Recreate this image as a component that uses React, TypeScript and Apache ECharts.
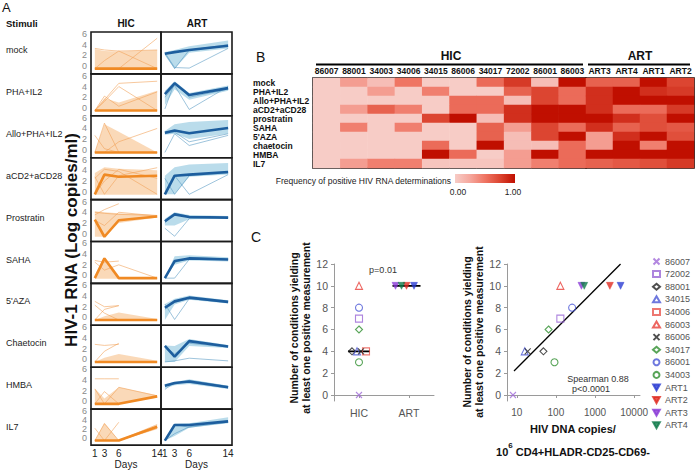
import React, { useEffect, useRef } from 'react';
import * as echarts from 'echarts';

const FONT = '"Liberation Sans", Arial, sans-serif';

// ---------- Panel A data ----------
const days = [1, 3, 6, 14];
const stimuliA = ['mock', 'PHA+IL2', 'Allo+PHA+IL2', 'aCD2+aCD28', 'Prostratin', 'SAHA', "5'AZA", 'Chaetocin', 'HMBA', 'IL7'];

const hicMean = [
  [-0.5, -0.5, -0.5, -0.5], [-0.5, -0.5, -0.5, -0.5], [-0.5, -0.5, -0.5, -0.5], [-0.5, 3.2, 2.8, 3.0], [2.6, -0.6, 2.5, 3.2],
  [-0.5, 3.2, -0.5, -0.5], [-0.5, -0.5, -0.5, -0.5], [-0.5, -0.5, -0.5, -0.5], [-0.5, -0.5, -0.5, 0.9], [-0.5, -0.5, -0.5, 2.5],
];
const hicUpper = [
  [3.2, 2.8, 2.7, 3.0], [-0.5, 1.8, 1.0, 3.2], [-0.5, 4.8, 3.4, -0.5], [3.5, 4.6, 4.3, 4.0], [4.2, 4.0, 3.8, 3.5],
  [-0.5, 3.4, -0.3, -0.5], [-0.5, 0.2, 0.9, -0.3], [-0.5, 0.3, 1.0, -0.3], [2.4, 0.5, 2.6, 1.1], [-0.5, 3.4, -0.5, 2.9],
];
const hicLower = [
  [-0.6, -0.6, -0.6, -0.6], [-0.6, -0.6, -0.6, -0.6], [-0.6, -0.6, -0.6, -0.6], [-0.6, -0.6, -0.6, -0.6], [-0.6, -0.6, 2.0, 3.0],
  [-0.6, -0.6, -0.6, -0.6], [-0.6, -0.6, -0.6, -0.6], [-0.6, -0.6, -0.6, -0.6], [-0.6, -0.6, -0.6, 0.7], [-0.6, -0.6, -0.6, 2.0],
];
const hicThin = [
  [[3.3, 3.0, 2.8, -0.5], [-0.5, -0.5, -0.5, 5.2], [-0.5, 1.0, 2.8, 3.0]],
  [[-0.5, 1.5, 4.6, 5.0], [-0.5, 1.2, 4.0, -0.5], [-0.5, 2.2, 0.3, 3.0]],
  [[-0.5, -0.5, 1.5, 4.0], [2.7, 0.2, -0.5, -0.5], [-0.5, 5.0, -0.5, -0.5]],
  [[2.5, 4.2, 3.8, -0.5], [-0.5, 2.0, 4.2, 2.5], [2.8, -0.5, 3.0, 4.5]],
  [[3.5, 4.5, 5.6, null], [2.5, 1.5, 4.0, 3.3], [4.0, 3.8, 3.6, 3.4]],
  [[2.8, 2.5, 2.7, null], [2.5, 1.0, 2.0, -0.5]],
  [[3.0, 2.0, 2.2, null], [2.3, 0.8, -0.5, -0.5], [-0.5, 1.5, 2.2, null]],
  [[2.8, 2.6, 2.8, null], [-0.5, 1.5, 3.0, null]],
  [[4.2, 4.2, 4.2, null], [2.3, -0.5, 2.6, 1.0], [-0.5, 1.8, -0.5, null]],
  [[2.2, -0.5, 3.5, null], [-0.5, 3.2, -0.5, 2.2], [-0.5, -0.5, -0.5, 3.0]],
];

const artMean = [
  [2.3, 2.6, 3.0, 3.8], [2.6, 4.6, 2.4, 3.7], [3.2, 3.6, 3.1, 4.1], [-0.5, 3.0, 3.2, 3.7], [2.3, 3.6, 3.1, 3.0],
  [-0.5, 2.7, 3.2, 3.0], [1.8, 3.0, 3.7, 2.9], [2.5, 0.5, 3.4, 2.4], [2.9, 3.4, 3.7, 2.6], [-0.5, 2.9, 2.9, 3.7],
];
const artUpper = [
  [2.6, 3.0, 3.7, 4.8], [3.2, 5.0, 2.8, 4.2], [3.5, 4.8, 5.2, 5.6], [3.0, 4.6, 5.1, 5.4], [2.8, 4.0, 3.5, 3.3],
  [-0.5, 3.6, 3.8, 3.4], [2.5, 3.5, 4.1, 3.2], [2.6, 2.5, 3.8, 2.7], [3.2, 3.6, 4.1, 2.9], [-0.5, 3.2, 3.3, 4.6],
];
const artLower = [
  [2.0, -0.5, 2.5, 3.3], [0.5, 3.5, 1.5, 3.2], [2.8, 3.0, 2.0, 3.0], [-0.5, -0.5, 2.8, 3.2], [1.5, 1.5, 2.7, 2.8],
  [-0.5, 2.0, 2.8, 2.6], [-0.5, 2.4, 3.3, 2.6], [-0.5, -0.5, 2.5, 2.1], [2.4, 3.0, 3.2, 2.3], [-0.5, 0.5, 2.3, 3.3],
];
const artThin = [
  [[2.3, -0.5, 3.0, 4.0], [2.5, -0.3, -0.4, 3.3]],
  [[2.0, 4.2, -0.3, 4.0], [-0.2, 4.8, 2.0, 3.5]],
  [[-0.5, 3.0, 0.8, 2.7], [3.0, 3.3, 1.5, 3.0]],
  [[-0.5, 3.0, -0.5, 3.2], [2.5, -0.5, 3.0, 3.5]],
  [[1.0, -0.5, 2.8, 3.0], [2.0, 3.8, 3.2, 3.0]],
  [[-0.5, -0.5, 3.0, 3.0], [-0.5, 2.4, 3.4, 3.1]],
  [[2.5, -0.4, 3.5, 2.8], [1.5, 2.8, 3.6, 3.0]],
  [[-0.5, -0.3, 0.2, -0.3], [2.4, 1.0, 3.0, 2.3]],
  [[2.2, 3.5, 3.5, 2.5], [3.0, 3.2, 3.9, 2.8]],
  [[-0.5, 3.0, 2.4, 3.5], [-0.5, 1.0, 2.5, 3.8]],
];
const dayTicks = [1, 3, 6, 14];
const rnaTicks = [0, 2, 4, 6];

// ---------- Panel B data ----------
const hicPatientsB = ['86007', '88001', '34003', '34006', '34015', '86006', '34017', '72002', '86001', '86003'];
const artPatientsB = ['ART3', 'ART4', 'ART1', 'ART2'];
const stimuliB = ['mock', 'PHA+IL2', 'Allo+PHA+IL2', 'aCD2+aCD28', 'prostratin', 'SAHA', "5'AZA", 'chaetocin', 'HMBA', 'IL7'];
const freqHIC = [
  [0, 0.3, 0.1, 0.5, 0, 0, 0.55, 0.8, 0.1, 1.0],
  [0, 0, 0.3, 0, 0.45, 0, 0, 0.6, 0.75, 0.55],
  [0, 0, 0, 0, 0, 0.55, 0.55, 0.1, 0.75, 0.55],
  [0, 0.3, 0.6, 0.45, 0, 0.55, 0.55, 0.85, 1.0, 1.0],
  [0, 0, 0, 0, 0.75, 1.0, 0.1, 0.85, 1.0, 1.0],
  [0, 0.45, 0, 0.45, 0, 0, 0.6, 0.3, 0.75, 0.55],
  [0, 0, 0, 0, 0, 0, 0.6, 0.1, 0.75, 1.0],
  [0, 0, 0, 0, 0.55, 0, 1.0, 0.1, 0.1, 0.55],
  [0, 0, 0, 0, 1.0, 0.55, 0, 0.3, 1.0, 0.55],
  [0, 0.3, 0.45, 0.45, 0.05, 0.05, 0.05, 0.3, 0.45, 0.55],
];
const freqART = [
  [0.6, 0.6, 1.0, 0.75],
  [0.85, 1.0, 0.85, 0.8],
  [0.85, 1.0, 1.0, 1.0],
  [0.85, 0.55, 0.55, 0.8],
  [1.0, 0.85, 0.7, 1.0],
  [0.85, 0.6, 0.7, 0.65],
  [0.3, 0.85, 1.0, 0.7],
  [0.3, 1.0, 0.45, 1.0],
  [1.0, 1.0, 1.0, 1.0],
  [0.6, 0.65, 0.7, 0.8],
];
const heatColors = ['#f7ccc6', '#f5a79d', '#ef7563', '#dc4531', '#c00f00'];

// ---------- Panel C data ----------
const patients = ['86007', '72002', '88001', '34015', '34006', '86003', '86006', '34017', '86001', '34003', 'ART1', 'ART2', 'ART3', 'ART4'];
const patientGroup = ['HIC', 'HIC', 'HIC', 'HIC', 'HIC', 'HIC', 'HIC', 'HIC', 'HIC', 'HIC', 'ART', 'ART', 'ART', 'ART'];
const positiveConditions = [0, 7, 4, 4, 4, 10, 4, 6, 8, 3, 10, 10, 10, 10];
const dnaCopies = [8, 130, 48, 16, null, 130, 19, 65, 260, 92, 4500, 2400, 450, 530];
const stripX = [0.5, 0.5, 0.36, 0.46, 0.64, 0.5, 0.54, 0.5, 0.5, 0.5, 1.6, 1.45, 1.23, 1.35];
const patientSymbols = ['cross', 'square', 'diamond', 'triangle', 'square', 'triangle', 'cross', 'diamond', 'circle', 'circle', 'down', 'down', 'down', 'down'];
const patientColors = ['#a06ad8', '#9a66d6', '#222222', '#4a56d6', '#e8554e', '#e8403a', '#222222', '#2f8f2f', '#4a56d6', '#2f8f2f', '#2a3cd2', '#e02a20', '#8a3ad6', '#0f7a4a'];
const countTicks = [0, 2, 4, 6, 8, 10, 12];
const dnaTicks = [10, 100, 1000, 10000];
const fitX = [8.5, 4500];
const fitY = [2.2, 12];

function median(a: number[]) {
  const s = [...a].sort((x, y) => x - y);
  const m = Math.floor(s.length / 2);
  return s.length % 2 ? s[m] : (s[m - 1] + s[m]) / 2;
}

const CROSS = 'path://M0,0L10,10M0,10L10,0';
const DOWN = 'path://M0,0L10,0L5,9Z';

function buildOption() {
  const grid: any[] = [];
  const xAxis: any[] = [];
  const yAxis: any[] = [];
  const series: any[] = [];
  const graphic: any[] = [];

  // ----- Panel A -----
  const rowTop0 = 32;
  const rowH = 41.9;
  const panels = [
    { mean: hicMean, up: hicUpper, lo: hicLower, thin: hicThin, left: 91, width: 70, band: '#f8cca0', bandOp: 0.75, thinC: '#f2a25a', meanC: '#f08a24' },
    { mean: artMean, up: artUpper, lo: artLower, thin: artThin, left: 161, width: 71, band: '#9ccde2', bandOp: 0.7, thinC: '#5b9bc4', meanC: '#1d5e9e' },
  ];
  for (let r = 0; r < 10; r++) {
    panels.forEach((p, c) => {
      const g = grid.length;
      grid.push({ left: p.left, top: rowTop0 + rowH * r, width: p.width, height: rowH, show: true, borderColor: '#1a1a1a', borderWidth: 1.6, backgroundColor: 'transparent' });
      const last = r === 9;
      xAxis.push({
        type: 'value', gridIndex: g, min: 0.2, max: 14.8,
        axisLine: { show: false }, axisTick: { show: false }, splitLine: { show: false },
        axisLabel: { show: last, customValues: dayTicks, fontSize: 10, color: '#222', margin: 3, fontFamily: FONT },
        name: last ? 'Days' : '', nameLocation: 'middle', nameGap: 13, nameTextStyle: { fontSize: 10, color: '#222', fontFamily: FONT },
      });
      yAxis.push({
        type: 'value', gridIndex: g, min: -1.49, max: 6.375,
        axisLine: { show: false }, axisTick: { show: false }, splitLine: { show: false },
        axisLabel: { show: c === 0, customValues: rnaTicks, fontSize: 9, lineHeight: 8, color: '#8a8a8a', margin: 4, fontFamily: FONT },
      });
      const up = p.up[r], lo = p.lo[r];
      series.push({
        type: 'custom', xAxisIndex: g, yAxisIndex: g, silent: true, z: 1, data: [[days[0], 0]],
        renderItem: (_params: any, api: any) => {
          const pts: number[][] = [];
          days.forEach((d, i) => pts.push(api.coord([d, up[i]])));
          for (let i = days.length - 1; i >= 0; i--) pts.push(api.coord([days[i], lo[i]]));
          return { type: 'polygon', shape: { points: pts }, style: { fill: p.band, opacity: p.bandOp } };
        },
      });
      p.thin[r].forEach((line: (number | null)[]) => {
        series.push({
          type: 'line', xAxisIndex: g, yAxisIndex: g, silent: true, z: 2, symbol: 'none',
          data: days.map((d, i) => [d, line[i]]).filter((pt) => pt[1] !== null),
          lineStyle: { color: p.thinC, width: 0.7, opacity: 0.85 },
        });
      });
      series.push({
        type: 'line', xAxisIndex: g, yAxisIndex: g, silent: true, z: 3, symbol: 'none',
        data: days.map((d, i) => [d, p.mean[r][i]]),
        lineStyle: { color: p.meanC, width: 2.6 },
      });
      if (c === 0) {
        graphic.push({ type: 'text', x: 6, y: rowTop0 + rowH * r + 18, silent: true, style: { text: stimuliA[r], fontSize: 9, fill: '#222', fontFamily: FONT, verticalAlign: 'middle' } });
      }
    });
  }

  // ----- Panel B heatmap -----
  const hmTop = 78, hmH = 90;
  const gH = grid.length;
  grid.push({ left: 313, top: hmTop, width: 273, height: hmH, show: true, borderColor: '#000', borderWidth: 1.6, backgroundColor: 'transparent' });
  grid.push({ left: 586, top: hmTop, width: 108, height: hmH, show: true, borderColor: '#000', borderWidth: 1.6, backgroundColor: 'transparent' });
  [hicPatientsB, artPatientsB].forEach((cols, k) => {
    xAxis.push({
      type: 'category', gridIndex: gH + k, data: cols, position: 'top',
      axisLine: { show: false }, axisTick: { show: false }, splitLine: { show: false },
      axisLabel: { interval: 0, fontSize: 8.5, fontWeight: 'bold', color: '#111', margin: 3, fontFamily: FONT },
    });
    yAxis.push({
      type: 'category', gridIndex: gH + k, data: stimuliB, inverse: true,
      axisLine: { show: false }, axisTick: { show: false }, splitLine: { show: false },
      axisLabel: { show: k === 0, interval: 0, align: 'left', margin: 60, fontSize: 8.5, fontWeight: 'bold', color: '#111', fontFamily: FONT, lineHeight: 9 },
    });
  });
  const heatIdx: number[] = [];
  [freqHIC, freqART].forEach((mat, k) => {
    const data: number[][] = [];
    mat.forEach((row, ri) => row.forEach((v, ci) => data.push([ci, ri, v])));
    heatIdx.push(series.length);
    series.push({ type: 'heatmap', xAxisIndex: gH + k, yAxisIndex: gH + k, data, silent: true, z: 1 });
  });

  // ----- Panel C scatters -----
  const gL = grid.length;
  grid.push({ left: 334, top: 264, width: 100, height: 137 });
  grid.push({ left: 507, top: 264, width: 133, height: 137 });
  const axisGray = { lineStyle: { color: '#9a9a9a', width: 1 } };
  xAxis.push({
    type: 'value', gridIndex: gL, min: 0, max: 2,
    axisLine: { show: true, ...axisGray }, splitLine: { show: false },
    axisTick: { show: true, customValues: [0.5, 1.5], length: 3, ...axisGray },
    axisLabel: { customValues: [0.5, 1.5], formatter: (v: number) => (v < 1 ? 'HIC' : 'ART'), fontSize: 10.5, color: '#555', margin: 6, fontFamily: FONT },
  });
  xAxis.push({
    type: 'value', gridIndex: gL + 1, min: 0.75, max: 4.15,
    axisLine: { show: true, ...axisGray }, splitLine: { show: false },
    axisTick: { show: true, customValues: dnaTicks.map((v) => Math.log10(v)), length: 3, ...axisGray },
    axisLabel: { customValues: dnaTicks.map((v) => Math.log10(v)), formatter: (v: number) => String(Math.round(Math.pow(10, v))), fontSize: 10, color: '#555', margin: 6, fontFamily: FONT },
  });
  [gL, gL + 1].forEach((g) => {
    yAxis.push({
      type: 'value', gridIndex: g, min: -0.55, max: 12,
      axisLine: { show: true, ...axisGray }, splitLine: { show: false },
      axisTick: { show: true, customValues: countTicks, length: 3, ...axisGray },
      axisLabel: { customValues: countTicks, fontSize: 10.5, color: '#555', margin: 6, fontFamily: FONT },
    });
  });

  const symbolOf = (s: string) => {
    if (s === 'cross') return CROSS;
    if (s === 'square') return 'rect';
    if (s === 'down') return 'triangle';
    return s;
  };
  const legendData: any[] = [];
  patients.forEach((name, i) => {
    const s = patientSymbols[i];
    const filled = s === 'down';
    const itemStyle = filled
      ? { color: patientColors[i], borderColor: patientColors[i], borderWidth: 0.5 }
      : { color: 'rgba(255,255,255,0)', borderColor: patientColors[i], borderWidth: 1.1 };
    const common = {
      type: 'scatter', name, symbol: symbolOf(s), symbolRotate: filled ? 180 : 0,
      symbolSize: s === 'cross' ? 6 : 7, itemStyle, z: 5, silent: true,
    };
    series.push({ ...common, xAxisIndex: gL, yAxisIndex: gL, data: [[stripX[i], positiveConditions[i]]] });
    if (dnaCopies[i] !== null) {
      series.push({ ...common, xAxisIndex: gL + 1, yAxisIndex: gL + 1, data: [[Math.log10(dnaCopies[i] as number), positiveConditions[i]]] });
    }
    legendData.push(filled ? { name, icon: DOWN } : { name });
  });
  // medians
  ['HIC', 'ART'].forEach((grp, k) => {
    const vals = positiveConditions.filter((_, i) => patientGroup[i] === grp);
    const m = median(vals);
    const cx = k === 0 ? 0.5 : 1.45;
    const half = k === 0 ? 0.22 : 0.28;
    series.push({
      type: 'line', xAxisIndex: gL, yAxisIndex: gL, symbol: 'none', silent: true, z: 4,
      data: [[cx - half, m], [cx + half, m]], lineStyle: { color: '#000', width: 1.6 },
    });
  });
  series.push({
    type: 'line', xAxisIndex: gL + 1, yAxisIndex: gL + 1, symbol: 'none', silent: true, z: 4,
    data: fitX.map((x, i) => [Math.log10(x), fitY[i]]), lineStyle: { color: '#000', width: 1.3 },
  });

  // ----- Graphic texts -----
  const t = (x: number, y: number, text: string, extra: any = {}) => ({
    type: 'text', x, y, silent: true,
    style: { text, fontFamily: FONT, fill: '#111', fontSize: 10, align: 'left', verticalAlign: 'middle', ...extra },
  });
  graphic.push(t(2, 7, 'A', { fontSize: 13 }));
  graphic.push(t(6, 23, 'Stimuli', { fontWeight: 'bold', fontSize: 9.5 }));
  graphic.push(t(126, 23, 'HIC', { fontWeight: 'bold', fontSize: 10, align: 'center' }));
  graphic.push(t(197, 23, 'ART', { fontWeight: 'bold', fontSize: 10, align: 'center' }));
  graphic.push({ ...t(71, 240, 'HIV-1 RNA (Log copies/ml)', { fontWeight: 'bold', fontSize: 17, align: 'center' }), rotation: Math.PI / 2 });

  graphic.push(t(256, 57, 'B', { fontSize: 14 }));
  graphic.push(t(451, 56, 'HIC', { fontWeight: 'bold', fontSize: 12, align: 'center' }));
  graphic.push(t(640, 56, 'ART', { fontWeight: 'bold', fontSize: 12, align: 'center' }));
  graphic.push({ type: 'line', shape: { x1: 316, y1: 64.5, x2: 583, y2: 64.5 }, style: { stroke: '#000', lineWidth: 2 } });
  graphic.push({ type: 'line', shape: { x1: 588, y1: 64.5, x2: 690, y2: 64.5 }, style: { stroke: '#000', lineWidth: 2 } });
  graphic.push(t(451, 181, 'Frequency of positive HIV RNA determinations', { fontSize: 8.5, align: 'right', fill: '#222' }));
  graphic.push({
    type: 'rect', shape: { x: 455, y: 174, width: 60, height: 9 },
    style: { fill: new echarts.graphic.LinearGradient(0, 0, 1, 0, heatColors.map((c, i) => ({ offset: i / (heatColors.length - 1), color: c }))) },
  });
  graphic.push(t(458, 192, '0.00', { fontSize: 8.5, align: 'center', fill: '#222' }));
  graphic.push(t(513, 192, '1.00', { fontSize: 8.5, align: 'center', fill: '#222' }));

  graphic.push(t(251, 237, 'C', { fontSize: 14 }));
  graphic.push({ ...t(300, 328, 'Number of conditions yielding\nat least one positive measurement', { fontWeight: 'bold', fontSize: 10.5, align: 'center', lineHeight: 11.5 }), rotation: Math.PI / 2 });
  graphic.push({ ...t(473, 332, 'Number of conditions yielding\nat least one positive measurement', { fontWeight: 'bold', fontSize: 10.5, align: 'center', lineHeight: 11.5 }), rotation: Math.PI / 2 });
  graphic.push(t(383, 270, 'p=0.01', { fontSize: 9, align: 'center', fill: '#333' }));
  graphic.push(t(598, 379, 'Spearman 0.88', { fontSize: 9, align: 'center', fill: '#333' }));
  graphic.push(t(591, 389, 'p<0.0001', { fontSize: 9, align: 'center', fill: '#333' }));
  graphic.push(t(573, 429, 'HIV DNA copies/', { fontWeight: 'bold', fontSize: 11, align: 'center' }));
  graphic.push({
    type: 'text', x: 573, y: 449, silent: true,
    style: {
      text: '{a|10}{s|6}{a| CD4+HLADR-CD25-CD69-}', align: 'center', verticalAlign: 'middle',
      rich: {
        a: { fontSize: 11, fontWeight: 'bold', fontFamily: FONT, fill: '#111', lineHeight: 16, verticalAlign: 'bottom' },
        s: { fontSize: 8, fontWeight: 'bold', fontFamily: FONT, fill: '#111', lineHeight: 16, verticalAlign: 'top' },
      },
    },
  });

  return {
    animation: false,
    textStyle: { fontFamily: FONT },
    grid, xAxis, yAxis, series, graphic,
    visualMap: {
      type: 'continuous', min: 0, max: 1, show: false, seriesIndex: heatIdx,
      inRange: { color: heatColors },
    },
    legend: {
      data: legendData, orient: 'vertical', left: 652, top: 257, itemWidth: 7, itemHeight: 6, itemGap: 3.6,
      padding: 0, selectedMode: false,
      textStyle: { fontSize: 9, color: '#555', fontFamily: FONT, lineHeight: 7 },
    },
  };
}

export default function App() {
  const ref = useRef<HTMLDivElement>(null);
  useEffect(() => {
    if (!ref.current) return;
    const chart = echarts.init(ref.current, undefined, { renderer: 'svg' });
    chart.setOption(buildOption() as any);
    return () => chart.dispose();
  }, []);
  return <div ref={ref} style={{ position: 'absolute', left: 0, top: 0, width: 696, height: 470, background: '#fff' }} />;
}
